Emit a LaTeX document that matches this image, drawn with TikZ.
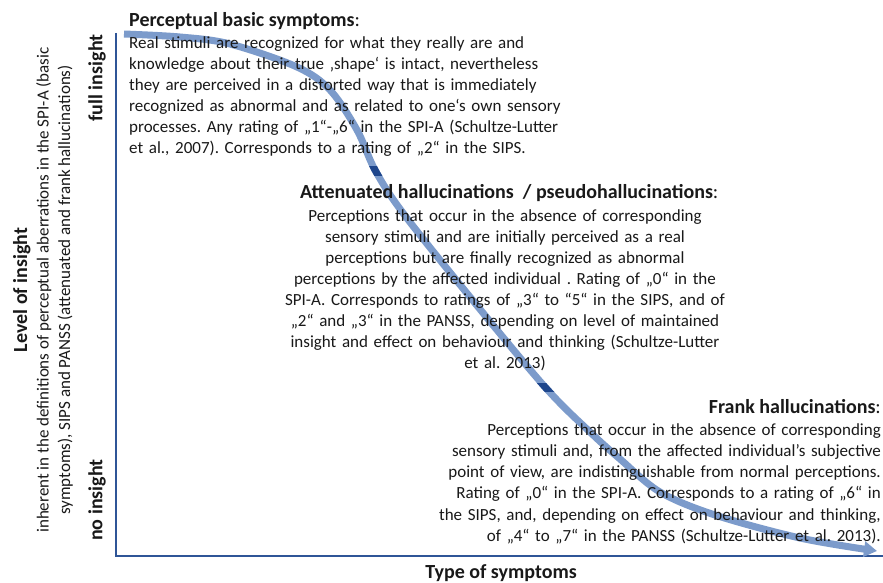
\documentclass[tikz,border=0pt]{standalone}
\usepackage{fontspec}
\setmainfont{Carlito}
\usetikzlibrary{arrows.meta}
\definecolor{axisblue}{RGB}{47,85,151}
\definecolor{curveblue}{RGB}{124,155,203}
\definecolor{dashblue}{RGB}{30,70,140}
\definecolor{txt}{RGB}{25,25,25}
\newcommand{\curvepath}{plot[smooth,tension=0.55] coordinates {(124,34) (180,37) (230,44) (297,67) (330,90) (357,130) (375,170) (403,213) (470,297) (545,387) (590,432) (620,459) (660,492) (715,515) (800,538) (877,551)}}
\begin{document}
\frenchspacing
\begin{tikzpicture}[x=1pt,y=-1pt,
  txtstyle/.style={text=txt,inner sep=0pt,font=\fontsize{17}{21}\selectfont},
  headstyle/.style={text=txt,inner sep=0pt,font=\fontsize{20}{22}\selectfont\bfseries},
  axisline/.style={draw=axisblue,line width=2pt},
  curveline/.style={draw=curveblue,line width=7pt},
  dashline/.style={draw=dashblue,line width=7pt}]
\useasboundingbox (0,0) rectangle (883,583);
\clip (0,0) rectangle (883,583);
\fill[white] (0,0) rectangle (883,583);
% axes
\coordinate (top) at (116,33);
\coordinate (origin) at (116,556);
\coordinate (right) at (884,556);
\draw[axisline] (top) -- (origin) -- (right);
% curve
\draw[curveline,-{Triangle[length=13pt,width=15pt]}] \curvepath;
\begin{scope}
\clip (0,166) rectangle (883,175);
\draw[dashline] \curvepath;
\end{scope}
\begin{scope}
\clip (0,383) rectangle (883,391);
\draw[dashline] \curvepath;
\end{scope}
% axis labels
\node[headstyle,rotate=90] (full) at (97,78) {full insight};
\node[headstyle,rotate=90] (noins) at (97,500) {no insight};
\node[txtstyle,rotate=90,align=center,font=\fontsize{17}{21.5}\selectfont] (ylab) at (43,290) {{\fontsize{20}{21.5}\selectfont\bfseries Level of insight}\\ inherent in the definitions of perceptual aberrations in the SPI-A (basic\\ symptoms), SIPS and PANSS (attenuated and frank hallucinations)};
\node[headstyle,anchor=base] (xlab) at (501,578) {Type of symptoms};
% perceptual basic symptoms
\node[headstyle,anchor=base west] (pbt) at (129,27) {Perceptual basic symptoms\mdseries:};
\node[txtstyle,anchor=base west,text width=460pt,align=left] (pbs) at (129,49) {Real stimuli are recognized for what they really are and\\
knowledge about their true ‚shape‘ is intact, nevertheless\\
they are perceived in a distorted way that is immediately\\
recognized as abnormal and as related to one‘s own sensory\\
processes. Any rating of „1“-„6“ in the SPI-A (Schultze-Lutter\\
et al., 2007). Corresponds to a rating of „2“ in the SIPS.};
% attenuated
\node[headstyle,anchor=base west] (aht) at (300,198) {Attenuated hallucinations \ / pseudohallucinations\mdseries:};
\node[txtstyle,anchor=base,text width=500pt,align=center] (ahs) at (505,221) {Perceptions that occur in the absence of corresponding\\
sensory stimuli and are initially perceived as a real\\
perceptions but are finally recognized as abnormal\\
perceptions by the affected individual . Rating of „0“ in the\\
SPI-A. Corresponds to ratings of „3“ to “5“ in the SIPS, and of\\
„2“ and „3“ in the PANSS, depending on level of maintained\\
insight and effect on behaviour and thinking (Schultze-Lutter\\
et al. 2013)};
% frank
\node[headstyle,anchor=base east] (fht) at (881,413) {Frank hallucinations\mdseries:};
\node[txtstyle,anchor=base east,text width=500pt,align=right,font=\fontsize{17}{21.3}\selectfont] (fhs) at (881,435) {Perceptions that occur in the absence of corresponding\\
sensory stimuli and, from the affected individual’s subjective\\
point of view, are indistinguishable from normal perceptions.\\
Rating of „0“ in the SPI-A. Corresponds to a rating of „6“ in\\
the SIPS, and, depending on effect on behaviour and thinking,\\
of „4“ to „7“ in the PANSS (Schultze-Lutter et al. 2013).};
\end{tikzpicture}
\end{document}
